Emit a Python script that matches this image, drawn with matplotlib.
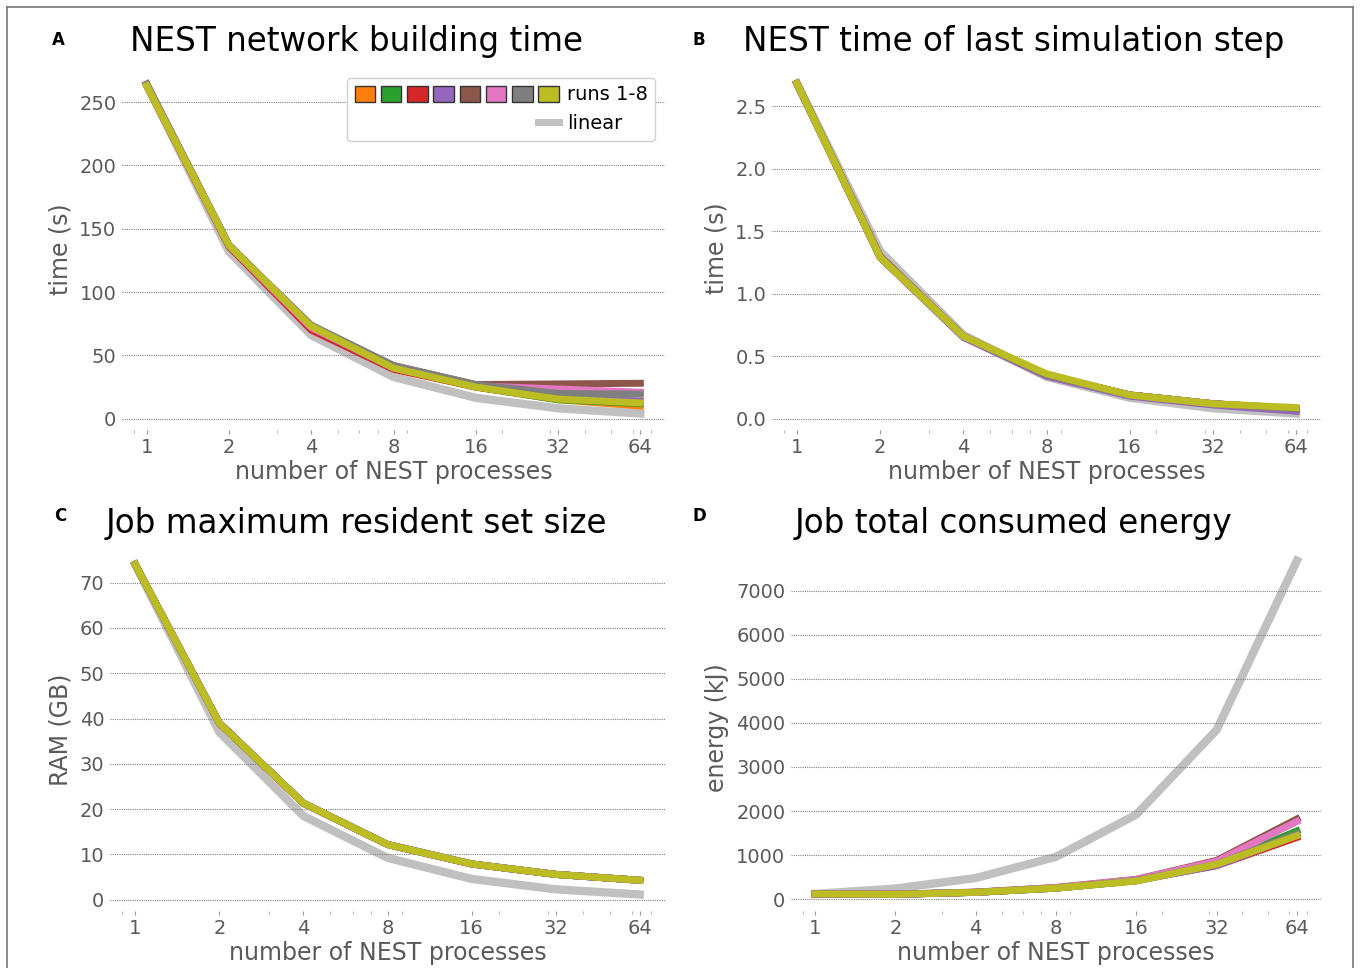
import matplotlib
matplotlib.use('Agg')
import matplotlib.pyplot as plt
from matplotlib.patches import Patch
from matplotlib.lines import Line2D
from matplotlib.legend_handler import HandlerTuple
from matplotlib.ticker import NullFormatter

# number of NEST processes
procs = [1, 2, 4, 8, 16, 32, 64]
proc_labels = ['1', '2', '4', '8', '16', '32', '64']
run_colors = ['#ff7f0e', '#2ca02c', '#d62728', '#9467bd',
              '#8c564b', '#e377c2', '#7f7f7f', '#bcbd22']
lin_color = '#c0c0c0'

# A: network building time (s), runs 1-8
build_runs = [
    [264, 137, 72, 40, 25, 15, 10],
    [264, 137, 72, 40, 25, 15, 12],
    [263, 136, 70, 39, 25, 16, 13],
    [264, 137, 72, 40, 26, 17, 14],
    [264, 137, 73, 42, 27, 27.5, 28],
    [264, 137, 72, 41, 26, 23.5, 21],
    [264, 137, 74, 42, 27, 20, 19.5],
    [263, 137, 73, 40, 25, 15.5, 12.5],
]
build_linear = [264, 132, 66, 33, 16.5, 8.25, 4.1]

# B: time of last simulation step (s)
step_runs = [
    [2.68, 1.29, 0.66, 0.35, 0.19, 0.12, 0.08],
    [2.68, 1.29, 0.66, 0.35, 0.19, 0.12, 0.08],
    [2.68, 1.29, 0.66, 0.35, 0.19, 0.12, 0.07],
    [2.68, 1.29, 0.65, 0.34, 0.18, 0.11, 0.06],
    [2.68, 1.30, 0.66, 0.35, 0.19, 0.12, 0.08],
    [2.68, 1.29, 0.66, 0.35, 0.19, 0.12, 0.08],
    [2.68, 1.29, 0.66, 0.35, 0.19, 0.12, 0.08],
    [2.68, 1.29, 0.66, 0.36, 0.19, 0.12, 0.09],
]
step_linear = [2.68, 1.34, 0.67, 0.335, 0.168, 0.084, 0.042]

# C: max resident set size (GB)
ram_runs = [[74, 39, 21.3, 12.2, 7.9, 5.6, 4.3] for _ in range(8)]
ram_linear = [74, 37, 18.5, 9.25, 4.6, 2.3, 1.16]

# D: consumed energy (kJ)
energy_runs = [
    [120, 110, 155, 250, 420, 780, 1450],
    [120, 110, 155, 250, 420, 790, 1550],
    [120, 110, 155, 255, 430, 760, 1400],
    [120, 110, 155, 250, 420, 760, 1450],
    [120, 115, 160, 265, 450, 880, 1820],
    [120, 115, 160, 262, 450, 860, 1760],
    [120, 110, 155, 250, 420, 790, 1480],
    [120, 110, 155, 250, 410, 790, 1440],
]
energy_linear = [120, 240, 480, 960, 1920, 3840, 7680]

W, H = 1360, 968
fig = plt.figure(figsize=(W / 100, H / 100), dpi=100)

txt_gray = '#5a5a5a'


def px_axes(l, r, t, b):
    return fig.add_axes([l / W, 1 - b / H, (r - l) / W, (b - t) / H])


def draw_panel(ax, runs, linear, ylabel):
    ax.plot(procs, linear, color=lin_color, lw=6, zorder=1)
    for vals, c in zip(runs, run_colors):
        ax.plot(procs, vals, color=c, lw=5, zorder=2)
    ax.set_xscale('log')
    ax.set_xticks(procs)
    ax.set_xticklabels(proc_labels)
    ax.xaxis.set_minor_formatter(NullFormatter())
    for s in ax.spines.values():
        s.set_visible(False)
    ax.grid(axis='y', linestyle=(0, (1, 1)), color='#808080', lw=0.8)
    ax.tick_params(axis='y', length=0, pad=4, labelsize=14, labelcolor=txt_gray)
    ax.tick_params(axis='x', which='major', length=3, width=0.8, color='#999999',
                   pad=3, labelsize=14, labelcolor=txt_gray)
    ax.tick_params(axis='x', which='minor', length=2, width=0.6, color='#aaaaaa')
    ax.set_xlabel('number of NEST processes', fontsize=17, color=txt_gray, labelpad=2)
    ax.set_ylabel(ylabel, fontsize=17, color=txt_gray, labelpad=5)


axA = px_axes(122, 665, 68, 430)
draw_panel(axA, build_runs, build_linear, 'time (s)')
axA.set_yticks([0, 50, 100, 150, 200, 250])

axB = px_axes(772, 1321, 67, 430)
draw_panel(axB, step_runs, step_linear, 'time (s)')
axB.set_yticks([0.0, 0.5, 1.0, 1.5, 2.0, 2.5])

axC = px_axes(110, 665, 548, 911)
draw_panel(axC, ram_runs, ram_linear, 'RAM (GB)')
axC.set_yticks(range(0, 71, 10))

axD = px_axes(791, 1321, 544, 911)
draw_panel(axD, energy_runs, energy_linear, 'energy (kJ)')
axD.set_yticks(range(0, 7001, 1000))

# legend with 8 run patches in one row
patches = tuple(Patch(facecolor=c, edgecolor='#333333', lw=1) for c in run_colors)
blank = tuple(Patch(facecolor='none', edgecolor='none') for _ in range(7))
lin_handle = blank + (Line2D([0], [0], color=lin_color, lw=5),)
axA.legend([patches, lin_handle], ['runs 1-8', 'linear'],
           handler_map={tuple: HandlerTuple(ndivide=None, pad=0.3)},
           loc='upper right', fontsize=14, handlelength=10.5, handleheight=0.9,
           handletextpad=0.4, framealpha=1, edgecolor='#d0d0d0')

# titles and panel letters
titles = [('A', 58, 40, 'NEST network building time', 357, 42),
          ('B', 699, 40, 'NEST time of last simulation step', 1014, 42),
          ('C', 60, 516, 'Job maximum resident set size', 356, 524),
          ('D', 699, 516, 'Job total consumed energy', 1013, 524)]
for letter, lx, ly, title, tx, ty in titles:
    fig.text(lx / W, 1 - ly / H, letter, fontsize=12, fontweight='bold',
             ha='center', va='center')
    fig.text(tx / W, 1 - ty / H, title, fontsize=23.5, ha='center', va='center')

# thin frame round the figure
frame_kw = dict(color='#777777', lw=1.2, transform=fig.transFigure)
fig.add_artist(Line2D([7 / W, 7 / W], [0, 1 - 7 / H], **frame_kw))
fig.add_artist(Line2D([7 / W, 1353 / W], [1 - 7 / H, 1 - 7 / H], **frame_kw))
fig.add_artist(Line2D([1353 / W, 1353 / W], [0, 1 - 7 / H], **frame_kw))

fig.savefig('out.png', dpi=100)
